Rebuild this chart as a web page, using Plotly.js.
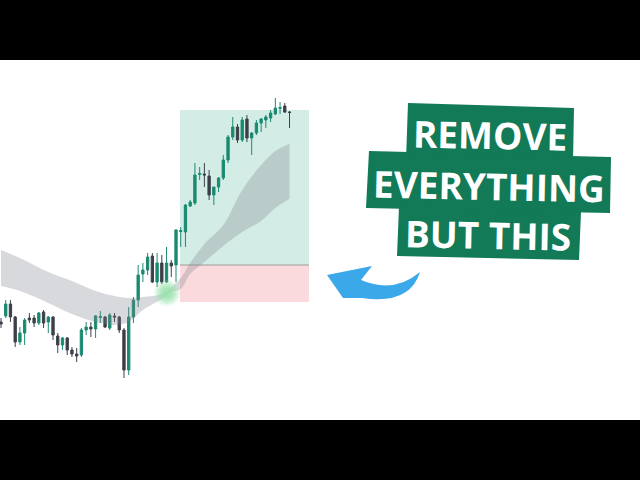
<!DOCTYPE html>
<html>
<head>
<meta charset="utf-8">
<script src="https://cdn.plot.ly/plotly-3.0.1.min.js"></script>
<style>html,body{margin:0;padding:0;background:#000;}#chart{width:640px;height:480px;}</style>
</head>
<body>
<div id="chart"></div>
<script>
// candle index
const idx = Array.from({length: 62}, (_, i) => i);
const openV  = [158,164,176,163,138,147,162,162,157,168,158,163,144,135,142,130,126,125,150,153,151,162.5,163,152,164,163,150,110,163,180,206,210,224,198,217,198,217,215,248.5,248,274,277,305.5,306,304,285,293,302,320,343,353,340,361,342,347,357,360,362,366,371.5,374,368];
const highV  = [162,180,180,164,153,162,167,165,168,170,164,164,147,143,143,133,132,152,158,158,165,169,164,167,167,164,152,173,183,215,217,227,227,227,225,233,220,251,253,276,280,317,313,317,310,293,303,325,345,363,356,363,365,348,360,362,365,370,382,378,377,369];
const lowV   = [152,162,158,133,135,135,157,153,155,152,147,140,127,130,125,123,118,123,145,143,142,157,152,150,158,147,102,105,157,173,198,205,197,193,196,197,203,198,233,233,273,275,300,293,280,275,288,300,317,340,337,338,338,325,345,348,352,358,365,366,367,352];
const closeV = [156,176,163,138,147,160,160,157,167,157,163,145,135,142,130,126,124,150,153,151,164,163.5,153,165,163,150,110,163,180,205,210,223,198,217,198,217,214,250,249.5,275,278,305,306.5,305,285,293,302,320,343,353,340,360,342,347,357,361,363,367,372,372.5,368,367.5];

// moving-average cloud (two edges) read at selected candles
const bandIdx   = [0,4,10,15,20,24,27,30,34,36,38,40,43,47,51,55,58,61];
const bandUpper = [230,222,208,199,189,184,182,183,186,193,202,217,236,255,290,315,329,336];
const bandLower = [194,189,177,166,158,155,158,170,181,188,191,206,218,234,248,259,272,281];

// text lines
const labels = ["REMOVE", "EVERYTHING", "BUT THIS"];

const W = 640, H = 480;
const px = (x) => x / W;
const py = (y) => 1 - y / H;
const path = (pts) => 'M' + pts.map(p => px(p[0]) + ',' + py(p[1])).join(' L') + ' Z';

const traces = [
  {type:'scatter', x: bandIdx, y: bandLower, mode:'lines', line:{width:0, shape:'spline'}, hoverinfo:'skip', showlegend:false},
  {type:'scatter', x: bandIdx, y: bandUpper, mode:'lines', line:{width:0, shape:'spline'}, fill:'tonexty', fillcolor:'rgba(125,130,138,0.30)', hoverinfo:'skip', showlegend:false},
  {type:'candlestick', x: idx, open: openV, high: highV, low: lowV, close: closeV,
   increasing:{line:{color:'#1c8b72', width:1}, fillcolor:'#17896f'},
   decreasing:{line:{color:'#3e414b', width:1}, fillcolor:'#3a3d47'},
   showlegend:false, hoverinfo:'skip'}
];

const glow = [];
const gc = [167, 293];
[[13,0.18],[11,0.25],[9,0.32],[7,0.38],[5,0.4]].forEach(([r,a]) => {
  glow.push({type:'circle', xref:'paper', yref:'paper', x0:px(gc[0]-r), x1:px(gc[0]+r), y0:py(gc[1]+r), y1:py(gc[1]-r),
    fillcolor:'rgba(150,225,172,' + a + ')', line:{width:0}});
});

const shapes = [
  {type:'rect', xref:'paper', yref:'paper', x0:0, x1:1, y0:py(420), y1:py(60), fillcolor:'#ffffff', line:{width:0}, layer:'below'},
  {type:'rect', xref:'paper', yref:'paper', x0:px(180), x1:px(309), y0:py(265), y1:py(110), fillcolor:'#d3ede6', line:{width:0}, layer:'below'},
  {type:'rect', xref:'paper', yref:'paper', x0:px(180), x1:px(309), y0:py(302), y1:py(265), fillcolor:'#fadadd', line:{width:0}, layer:'below'},
  {type:'line', xref:'paper', yref:'paper', x0:px(180), x1:px(309), y0:py(265), y1:py(265), line:{color:'#9a9a9a', width:1}, layer:'below'},
  ...glow,
  // text boxes
  {type:'path', xref:'paper', yref:'paper', path: path([[408,103],[574,108],[573,162],[406,160]]), fillcolor:'#127a57', line:{width:0}},
  {type:'path', xref:'paper', yref:'paper', path: path([[369,151],[611,157],[610,213],[366,208]]), fillcolor:'#127a57', line:{width:0}},
  {type:'path', xref:'paper', yref:'paper', path: path([[399,207],[581,212],[579,260],[397,256]]), fillcolor:'#127a57', line:{width:0}},
  // arrow
  {type:'path', xref:'paper', yref:'paper',
   path: 'M' + px(327)+','+py(275) + ' L' + px(372)+','+py(266) + ' L' + px(361)+','+py(280) +
         ' Q' + px(394)+','+py(294) + ' ' + px(420)+','+py(272) +
         ' Q' + px(410)+','+py(305) + ' ' + px(362)+','+py(298) +
         ' L' + px(343)+','+py(298) + ' Z',
   fillcolor:'#3ba8ea', line:{width:0}}
];

const textPos = [[490,134],[489,185],[488,235]];
const annotations = labels.map((t, k) => ({
  xref:'paper', yref:'paper', x: px(textPos[k][0]), y: py(textPos[k][1]),
  text: '<b>' + t + '</b>', showarrow:false, xanchor:'center', yanchor:'middle', textangle: 1.2,
  font:{family:'Open Sans, Arial, sans-serif', size:37, color:'#ffffff'}
}));

const layout = {
  width: W, height: H,
  margin:{l:0, r:0, t:0, b:0},
  paper_bgcolor:'#000000', plot_bgcolor:'rgba(0,0,0,0)',
  xaxis:{range:[-0.21, 135.1], visible:false, rangeslider:{visible:false}, fixedrange:true},
  yaxis:{range:[0, 480], visible:false, fixedrange:true},
  shapes, annotations, showlegend:false
};

Plotly.newPlot('chart', traces, layout, {displayModeBar:false, staticPlot:true});
</script>
</body>
</html>
